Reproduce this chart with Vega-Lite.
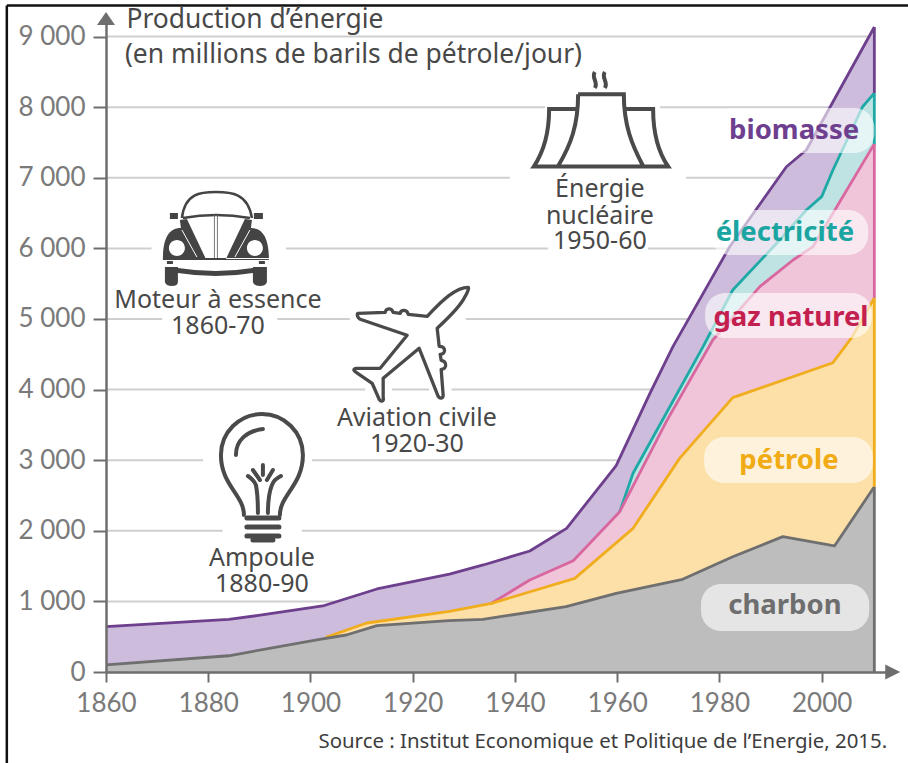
{
"$schema":"https://vega.github.io/schema/vega-lite/v6.json",
"width":787,"height":658,
"autosize":"none",
"padding":{"left":106,"top":14,"right":15,"bottom":91},
"background":"white",
"config":{"view":{"stroke":null},"text":{"font":"Noto Sans"}},
"datasets":{
"grid":[
{"value":1000,"from":1860,"to":2010},
{"value":2000,"from":1860,"to":1882.8},{"value":2000,"from":1898.3,"to":2010},
{"value":3000,"from":1860,"to":1879},{"value":3000,"from":1900.3,"to":2010},
{"value":4000,"from":1860,"to":1910.7},{"value":4000,"from":1915.9,"to":1923.2},{"value":4000,"from":1927.6,"to":2010},
{"value":5000,"from":1860,"to":1871},{"value":5000,"from":1893.5,"to":1907.7},{"value":5000,"from":1930.4,"to":2010},
{"value":6000,"from":1860,"to":1868.9},{"value":6000,"from":1895.2,"to":1946.5},{"value":6000,"from":1966,"to":2010},
{"value":7000,"from":1860,"to":1939},{"value":7000,"from":1973.5,"to":2010},
{"value":8000,"from":1860,"to":1945.9},{"value":8000,"from":1968.4,"to":2010},
{"value":9000,"from":1860,"to":2010}],
"series":[
{"series":"biomasse","year":1860,"value":642},{"series":"biomasse","year":1884,"value":746},{"series":"biomasse","year":1889.5,"value":798},{"series":"biomasse","year":1902.4,"value":935},{"series":"biomasse","year":1913,"value":1176},{"series":"biomasse","year":1927.2,"value":1385},{"series":"biomasse","year":1933.8,"value":1516},{"series":"biomasse","year":1942.9,"value":1714},{"series":"biomasse","year":1950.1,"value":2035},{"series":"biomasse","year":1959.8,"value":2922},{"series":"biomasse","year":1966.4,"value":3947},{"series":"biomasse","year":1970.9,"value":4608},{"series":"biomasse","year":1982,"value":6024},{"series":"biomasse","year":1993.1,"value":7157},{"series":"biomasse","year":1997,"value":7394},{"series":"biomasse","year":2010.3,"value":9136},
{"series":"électricité","year":1960.5,"value":2271},{"series":"électricité","year":1963.1,"value":2815},{"series":"électricité","year":1976.8,"value":4608},{"series":"électricité","year":1982.6,"value":5411},{"series":"électricité","year":1991.8,"value":6119},{"series":"électricité","year":1997,"value":6544},{"series":"électricité","year":2000,"value":6733},{"series":"électricité","year":2002.2,"value":7110},{"series":"électricité","year":2008,"value":8006},{"series":"électricité","year":2010.3,"value":8200},
{"series":"gaz naturel","year":1935.4,"value":973},{"series":"gaz naturel","year":1942.9,"value":1303},{"series":"gaz naturel","year":1951.4,"value":1577},{"series":"gaz naturel","year":1960.5,"value":2271},{"series":"gaz naturel","year":1969.6,"value":3546},{"series":"gaz naturel","year":1978.7,"value":4703},{"series":"gaz naturel","year":1987.9,"value":5458},{"series":"gaz naturel","year":1994.4,"value":5836},{"series":"gaz naturel","year":1998.3,"value":6024},{"series":"gaz naturel","year":2002.2,"value":6497},{"series":"gaz naturel","year":2010.3,"value":7480},
{"series":"pétrole","year":1903,"value":490},{"series":"pétrole","year":1911,"value":694},{"series":"pétrole","year":1927.2,"value":860},{"series":"pétrole","year":1935.4,"value":973},{"series":"pétrole","year":1951.7,"value":1327},{"series":"pétrole","year":1963.1,"value":2035},{"series":"pétrole","year":1972.2,"value":3026},{"series":"pétrole","year":1982.6,"value":3886},{"series":"pétrole","year":2002.2,"value":4381},{"series":"pétrole","year":2006,"value":4750},{"series":"pétrole","year":2010.3,"value":5300},
{"series":"charbon","year":1860,"value":100},{"series":"charbon","year":1884,"value":230},{"series":"charbon","year":1901.8,"value":463},{"series":"charbon","year":1907,"value":524},{"series":"charbon","year":1913,"value":656},{"series":"charbon","year":1927,"value":727},{"series":"charbon","year":1933.7,"value":746},{"series":"charbon","year":1950,"value":925},{"series":"charbon","year":1959.8,"value":1114},{"series":"charbon","year":1972.8,"value":1313},{"series":"charbon","year":1982.6,"value":1633},{"series":"charbon","year":1992.4,"value":1917},{"series":"charbon","year":2002.5,"value":1785},{"series":"charbon","year":2010.3,"value":2625}],
"edges":[
{"series":"charbon","year":2010.3,"low":0,"high":2625},
{"series":"pétrole","year":2010.3,"low":2625,"high":5300},
{"series":"gaz naturel","year":2010.3,"low":5300,"high":7480},
{"series":"électricité","year":2010.3,"low":7480,"high":8200},
{"series":"biomasse","year":2010.3,"low":8200,"high":9136}],
"pills":[
{"x1":1978.5,"x2":2010.3,"y1":7351,"y2":7989},
{"x1":1978.2,"x2":2009.1,"y1":5907,"y2":6544},
{"x1":1977.2,"x2":2009.8,"y1":4731,"y2":5368},
{"x1":1977,"x2":2010,"y1":2677,"y2":3329},
{"x1":1976.4,"x2":2009.3,"y1":581,"y2":1246}],
"labels":[
{"series":"biomasse","year":1994.6,"value":7677},
{"series":"électricité","year":1992.8,"value":6246},
{"series":"gaz naturel","year":1994,"value":5042},
{"series":"pétrole","year":1993.6,"value":3003},
{"series":"charbon","year":1992.8,"value":949}],
"notes":[
{"label":"Énergie","year":1956.6,"value":6856},
{"label":"nucléaire","year":1956.6,"value":6487},
{"label":"1950-60","year":1956.6,"value":6119},
{"label":"Moteur à essence","year":1881.9,"value":5297},
{"label":"1860-70","year":1881.9,"value":4929},
{"label":"Aviation civile","year":1920.8,"value":3612},
{"label":"1920-30","year":1920.8,"value":3244},
{"label":"Ampoule","year":1890.5,"value":1629},
{"label":"1880-90","year":1890.5,"value":1261}]
},
"layer":[
{"data":{"values":[{"a":1840.6,"b":2017,"v":9440}]},
 "mark":{"type":"rule","stroke":"#111111","strokeWidth":2.5},
 "encoding":{"x":{"field":"a","type":"quantitative","scale":{"domain":[1860,2013.95],"nice":false,"zero":false},
   "axis":{"values":[1860,1880,1900,1920,1940,1960,1980,2000],"format":"d","title":null,"grid":false,"zindex":1,"domainColor":"#6e6e6e","domainWidth":2.5,"tickColor":"#6e6e6e","tickWidth":2,"tickSize":10,"labelColor":"#7a7a7a","labelFont":"Lato","labelFontSize":26,"labelPadding":8,"labelFlush":false}},
  "x2":{"field":"b"},
  "y":{"field":"v","type":"quantitative","scale":{"domain":[0,9320],"nice":false},
   "axis":{"values":[0,1000,2000,3000,4000,5000,6000,7000,8000,9000],"labelExpr":"replace(format(datum.value,','),',',' ')","title":null,"grid":false,"zindex":1,"domainColor":"#6e6e6e","domainWidth":2.5,"tickColor":"#6e6e6e","tickWidth":2,"tickSize":13,"labelColor":"#7a7a7a","labelFont":"Lato","labelFontSize":26,"labelPadding":8}}}},
{"data":{"values":[{"a":1840.6,"v":9440,"w":-1320}]},
 "mark":{"type":"rule","stroke":"#111111","strokeWidth":2.5},
 "encoding":{"x":{"field":"a","type":"quantitative"},"y":{"field":"v","type":"quantitative"},"y2":{"field":"w"}}},
{"data":{"name":"grid"},
 "mark":{"type":"rule","stroke":"#cfcfcf","strokeWidth":2},
 "encoding":{"x":{"field":"from","type":"quantitative"},"x2":{"field":"to"},"y":{"field":"value","type":"quantitative"}}},
{"data":{"name":"series"},
 "mark":{"type":"area","interpolate":"linear","opacity":1},
 "encoding":{"x":{"field":"year","type":"quantitative"},"y":{"field":"value","type":"quantitative","stack":null},
  "fill":{"field":"series","type":"nominal","legend":null,"scale":{"domain":["biomasse","électricité","gaz naturel","pétrole","charbon"],"range":["#cdbcdc","#bfe3e3","#f0c5da","#fddfa8","#bdbdbd"]}}}},
{"data":{"name":"series"},
 "mark":{"type":"line","interpolate":"linear","strokeWidth":2.8,"strokeJoin":"round"},
 "encoding":{"x":{"field":"year","type":"quantitative"},"y":{"field":"value","type":"quantitative","stack":null},
  "stroke":{"field":"series","type":"nominal","legend":null,"scale":{"domain":["biomasse","électricité","gaz naturel","pétrole","charbon"],"range":["#6d3f8c","#1fa9a6","#d9679f","#f0ad1e","#6f6f6f"]}}}},
{"data":{"name":"edges"},
 "mark":{"type":"rule","strokeWidth":2.8},
 "encoding":{"x":{"field":"year","type":"quantitative"},"y":{"field":"low","type":"quantitative"},"y2":{"field":"high"},
  "stroke":{"field":"series","type":"nominal","legend":null}}},
{"data":{"name":"pills"},
 "mark":{"type":"rect","fill":"#ffffff","opacity":0.6,"cornerRadius":20},
 "encoding":{"x":{"field":"x1","type":"quantitative"},"x2":{"field":"x2"},"y":{"field":"y1","type":"quantitative"},"y2":{"field":"y2"}}},
{"data":{"name":"labels"},
 "mark":{"type":"text","font":"Noto Sans","fontWeight":"bold","fontSize":27.5,"baseline":"middle","align":"center","dy":1.5},
 "encoding":{"x":{"field":"year","type":"quantitative"},"y":{"field":"value","type":"quantitative"},"text":{"field":"series"},
  "color":{"field":"series","type":"nominal","legend":null,"scale":{"domain":["biomasse","électricité","gaz naturel","pétrole","charbon"],"range":["#6e3f8e","#1aa5a1","#c4204f","#f0ab15","#6e6e6e"]}}}},
{"data":{"name":"notes"},
 "mark":{"type":"text","font":"Noto Sans","fontSize":25,"baseline":"middle","align":"center","fill":"#484848","dy":1.5},
 "encoding":{"x":{"field":"year","type":"quantitative"},"y":{"field":"value","type":"quantitative"},"text":{"field":"label"}}},
{"data":{"values":[{"label":"Production d’énergie","year":1864,"value":9235},{"label":"(en millions de barils de pétrole/jour)","year":1863.7,"value":8739}]},
 "mark":{"type":"text","font":"Noto Sans","fontSize":26.4,"baseline":"middle","align":"left","fill":"#484848"},
 "encoding":{"x":{"field":"year","type":"quantitative"},"y":{"field":"value","type":"quantitative"},"text":{"field":"label"}}},
{"data":{"values":[{"label":"Source : Institut Economique et Politique de l’Energie, 2015.","year":2012.8,"value":-992}]},
 "mark":{"type":"text","font":"Noto Sans","fontSize":20.4,"baseline":"middle","align":"right","fill":"#3d3d3d"},
 "encoding":{"x":{"field":"year","type":"quantitative"},"y":{"field":"value","type":"quantitative"},"text":{"field":"label"}}},
{"data":{"values":[{"year":1860,"value":9257}]},
 "mark":{"type":"point","filled":true,"size":4,"fill":"#6e6e6e","stroke":null,"opacity":1,"shape":"M0 -6.5 L9 6.5 L-9 6.5 Z"},
 "encoding":{"x":{"field":"year","type":"quantitative"},"y":{"field":"value","type":"quantitative"}}},
{"data":{"values":[{"year":2013.9,"value":0}]},
 "mark":{"type":"point","filled":true,"size":4,"fill":"#6e6e6e","stroke":null,"opacity":1,"shape":"M-7.5 -7.5 L7.5 0 L-7.5 7.5 Z"},
 "encoding":{"x":{"field":"year","type":"quantitative"},"y":{"field":"value","type":"quantitative"}}},
{"data":{"values":[{"year":1956.6,"value":7677}]},
 "mark":{"type":"point","filled":false,"size":4,"stroke":"#4a4a4a","strokeWidth":4,"opacity":1,"fill":"transparent","strokeJoin":"miter","shape":"M-21.7 -35.7 H24 C24 -5 32 15 43.3 36 M-21.7 -35.7 C-21.7 -5 -29 15 -41.7 36 M-21.7 -21 H-50.7 C-50.7 0 -55 20 -66 36.5 H68.3 C57 20 53.3 0 53.3 -21 H24 M-5 -58 C-9 -52 -1 -48 -5 -42 M5 -58 C1 -52 9 -48 5 -42"},
 "encoding":{"x":{"field":"year","type":"quantitative"},"y":{"field":"value","type":"quantitative"}}},
{"data":{"values":[{"year":1890.5,"value":2861}]},
 "mark":{"type":"point","filled":false,"size":4,"stroke":"#4a4a4a","strokeWidth":4,"opacity":1,"fill":"transparent","strokeCap":"round","shape":"M-18 45 C-18 25 -41 15 -41 -15 A41 41 0 0 1 41 -15 C41 15 18 25 18 45 M-26 -15 C-26 -30 -15 -39 1 -41 M-4 43 C-4 30 -5 20 -6 15 C-7 12 -11 8 -14 6 M6 43 C6 30 8 20 10 15 C11 12 15 8 19 6 M1 -5 V5 M-9 0 L-2 10 M11 0 L5 10"},
 "encoding":{"x":{"field":"year","type":"quantitative"},"y":{"field":"value","type":"quantitative"}}},
{"data":{"values":[{"year":1890.5,"value":2861}]},
 "mark":{"type":"point","filled":false,"size":4,"stroke":"#4a4a4a","strokeWidth":5,"opacity":1,"fill":"transparent","strokeCap":"round","shape":"M-15 48 H17 M-15 57 H17 M-15 66 H17 M-9 70 H11"},
 "encoding":{"x":{"field":"year","type":"quantitative"},"y":{"field":"value","type":"quantitative"}}},
{"data":{"values":[{"year":1881.5,"value":6232}]},
 "mark":{"type":"point","filled":true,"size":4,"fill":"#444444","stroke":null,"opacity":1,"shape":"M-53 27 C-53 8 -48 -4 -35 -4 L-36 -12 L-29 -13 L-10 27 Z M-47 16 A8 8 0 1 0 -31 16 A8 8 0 1 0 -47 16 Z M53 27 C53 8 48 -4 35 -4 L36 -12 L29 -13 L10 27 Z M47 16 A8 8 0 1 1 31 16 A8 8 0 1 1 47 16 Z M-46 -19 H-38 V-13 H-46 Z M38 -19 H47 V-13 H38 Z M-51 35 H-38 V36 Q0 42 37 36 V35 H51 V50 Q50 54 44 54 Q38 54 37 50 V41 Q0 47 -38 41 V50 Q-38 54 -44 54 Q-50 54 -51 50 Z M-49 29 H-43 V32 H-49 Z M43 29 H49 V32 H43 Z M-53 26 H53 V28 H-53 Z"},
 "encoding":{"x":{"field":"year","type":"quantitative"},"y":{"field":"value","type":"quantitative"}}},
{"data":{"values":[{"year":1881.5,"value":6232}]},
 "mark":{"type":"point","filled":false,"size":4,"stroke":"#ffffff","strokeWidth":1,"opacity":1,"fill":"transparent","shape":"M-34 -2 L-19 25 M34 -2 L19 25"},
 "encoding":{"x":{"field":"year","type":"quantitative"},"y":{"field":"value","type":"quantitative"}}},
{"data":{"values":[{"year":1881.5,"value":6232}]},
 "mark":{"type":"point","filled":false,"size":4,"stroke":"#444444","strokeWidth":2.5,"opacity":1,"fill":"transparent","shape":"M-34 -14 C-31 -39 -15 -40 0 -40 C15 -40 32 -39 36 -14 M-33 -14 Q0 -20 34 -14"},
 "encoding":{"x":{"field":"year","type":"quantitative"},"y":{"field":"value","type":"quantitative"}}},
{"data":{"values":[{"year":1881.5,"value":6232}]},
 "mark":{"type":"point","filled":false,"size":4,"stroke":"#777777","strokeWidth":1,"opacity":1,"fill":"transparent","shape":"M-1.5 -17 V26 M1.5 -17 V26"},
 "encoding":{"x":{"field":"year","type":"quantitative"},"y":{"field":"value","type":"quantitative"}}},
{"data":{"values":[{"year":1919.5,"value":4656}]},
 "mark":{"type":"point","filled":false,"size":4,"stroke":"#4a4a4a","strokeWidth":3.3,"opacity":1,"fill":"transparent","strokeJoin":"round","shape":"M58 -56 C46 -56 33 -44 17 -27 L-2 -29 C-3 -34 -9 -34 -10 -30 L-17 -31 C-19 -36 -24 -35 -25 -31 L-52 -30 C-54 -29 -52 -25 -50 -24 L-3 -8 L-30 25 L-54 25 C-58 26 -56 28 -54 29 L-38 40 L-31 56 C-29 59 -26 58 -27 54 L-27 35 L9 5 L28 53 C30 56 33 55 33 52 L31 26 C37 26 37 18 31 17 L30 11 C36 11 36 3 29 3 L27 -15 C40 -27 51 -38 55 -47 C58 -52 59 -56 58 -56 Z"},
 "encoding":{"x":{"field":"year","type":"quantitative"},"y":{"field":"value","type":"quantitative"}}}
]
}
